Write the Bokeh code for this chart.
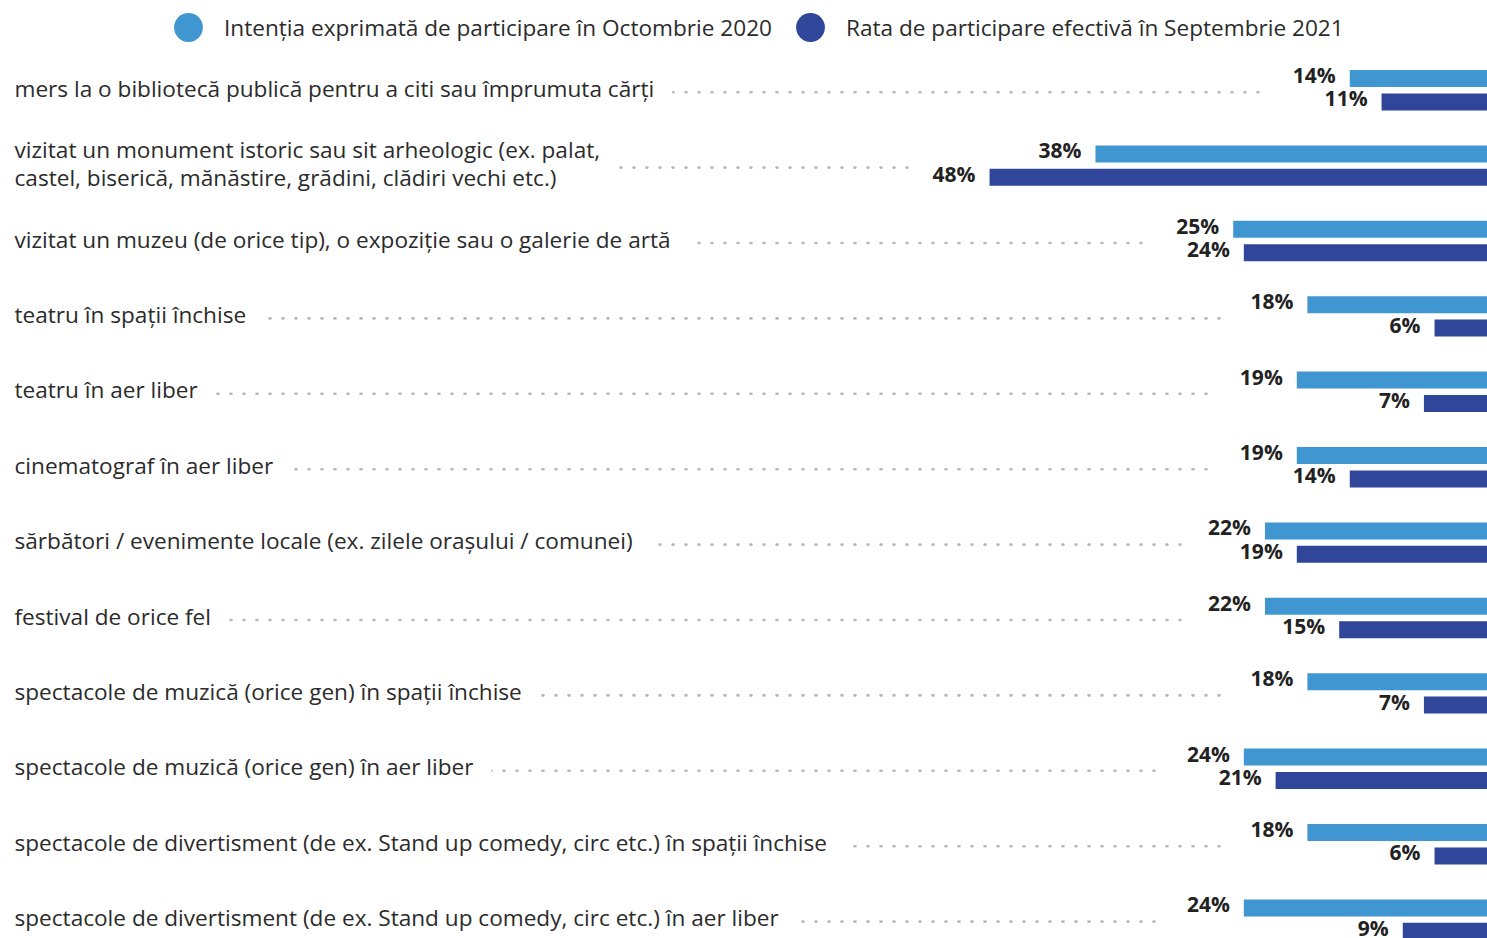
from bokeh.plotting import figure
from bokeh.models import Range1d, ColumnDataSource, Legend, LegendItem
from bokeh.core.properties import value
from bokeh.embed import file_html
from bokeh.resources import INLINE

# ---------------- data ----------------
categories = [
    "mers la o bibliotecă publică pentru a citi sau împrumuta cărți",
    "vizitat un monument istoric sau sit arheologic (ex. palat,\ncastel, biserică, mănăstire, grădini, clădiri vechi etc.)",
    "vizitat un muzeu (de orice tip), o expoziție sau o galerie de artă",
    "teatru în spații închise",
    "teatru în aer liber",
    "cinematograf în aer liber",
    "sărbători / evenimente locale (ex. zilele orașului / comunei)",
    "festival de orice fel",
    "spectacole de muzică (orice gen) în spații închise",
    "spectacole de muzică (orice gen) în aer liber",
    "spectacole de divertisment (de ex. Stand up comedy, circ etc.) în spații închise",
    "spectacole de divertisment (de ex. Stand up comedy, circ etc.) în aer liber",
]
intent_2020 = [14, 38, 25, 18, 19, 19, 22, 22, 18, 24, 18, 24]
actual_2021 = [11, 48, 24, 6, 7, 14, 19, 15, 7, 21, 6, 9]
series_names = [
    "Intenția exprimată de participare în Octombrie 2020",
    "Rata de participare efectivă în Septembrie 2021",
]
series_colors = ["#3f96d0", "#30469a"]

# ---------------- layout ----------------
W, H = 1487, 938
PX_PER = 10.595          # px per percentage point
ZERO_PX = 1497.6         # zero line position (px, just beyond right edge)
ROW_PX = 75.4
ROW0_PX = 89.7
FONT = "Open Sans"
TXT = "#2b2b2b"

x_start = ZERO_PX / PX_PER
x_end = (ZERO_PX - W) / PX_PER
y_top = -ROW0_PX / ROW_PX
y_bottom = (H - ROW0_PX) / ROW_PX

p = figure(width=W, height=H, output_backend="svg", toolbar_location=None,
           x_range=Range1d(x_start, x_end), y_range=Range1d(y_bottom, y_top),
           x_axis_location=None, y_axis_location=None, min_border=0)
p.outline_line_color = None
p.xgrid.visible = False
p.ygrid.visible = False
p.background_fill_color = "white"
p.border_fill_color = "white"

n = len(categories)
rows = list(range(n))
bar_off = 11.7 / ROW_PX
bar_h = 17 / ROW_PX
PAD = 18
label_x = x_start + (PAD - 14) / PX_PER
dot_end = [max(a, b) + 80 / PX_PER for a, b in zip(intent_2020, actual_2021)]

src = ColumnDataSource(dict(
    cat=categories, row=rows,
    y_int=[r - bar_off for r in rows], y_act=[r + bar_off for r in rows],
    intent=intent_2020, actual=actual_2021,
    intent_lbl=[f"{v}%" for v in intent_2020], actual_lbl=[f"{v}%" for v in actual_2021],
    dot_y=[r + 2 / ROW_PX for r in rows],
    x0=[label_x] * n, x1=dot_end,
))

# dotted leaders
p.segment(x0="x0", x1="x1", y0="dot_y", y1="dot_y", source=src,
          line_color="#b8b8b8", line_width=2.6, line_dash="1 12", line_cap="round")

# category labels (white background hides the leader under the text)
p.text(x="x0", y="row", text="cat", source=src, text_font=value(FONT),
       text_font_size="22.6px", text_color=TXT, text_align="left", text_baseline="middle",
       text_line_height=0.88, background_fill_color="white", padding=PAD, y_offset=-2)

# bars
p.hbar(y="y_int", left=0, right="intent", height=bar_h, source=src,
       fill_color=series_colors[0], line_color=None)
p.hbar(y="y_act", left=0, right="actual", height=bar_h, source=src,
       fill_color=series_colors[1], line_color=None)

# value labels
p.text(x="intent", y="y_int", text="intent_lbl", source=src, text_font=value(FONT),
       text_font_style="bold", text_font_size="21px", text_color="#222222",
       text_align="right", text_baseline="middle", x_offset=-14, y_offset=-3.5)
p.text(x="actual", y="y_act", text="actual_lbl", source=src, text_font=value(FONT),
       text_font_style="bold", text_font_size="21px", text_color="#222222",
       text_align="right", text_baseline="middle", x_offset=-14, y_offset=-3.5)

# legend (circle markers)
nan = float("nan")
r1 = p.scatter(x=[nan], y=[nan], size=30, fill_color=series_colors[0], line_color=None)
r2 = p.scatter(x=[nan], y=[nan], size=30, fill_color=series_colors[1], line_color=None)
legend = Legend(items=[LegendItem(label=value(series_names[0]), renderers=[r1]),
                       LegendItem(label=value(series_names[1]), renderers=[r2])],
                orientation="horizontal", location=(152, H - 63),
                glyph_width=72, glyph_height=72, label_standoff=0, spacing=2,
                padding=0, margin=0, border_line_color=None, background_fill_alpha=0,
                label_text_font=FONT, label_text_font_size="22.6px", label_text_color=TXT)
p.add_layout(legend, "center")

open("out.html", "w").write(file_html(p, INLINE))
